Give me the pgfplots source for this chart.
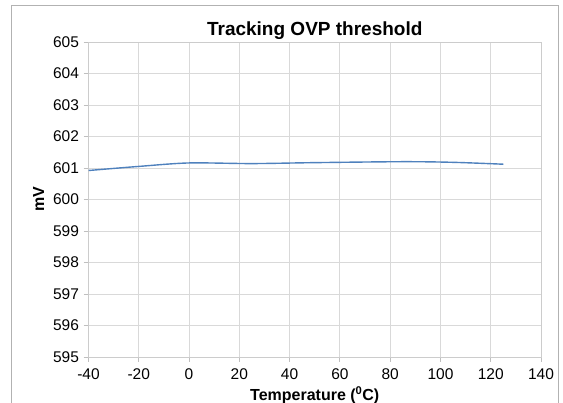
\documentclass[border=0pt]{standalone}
\usepackage{fontspec}
\setmainfont{Liberation Sans}
\usepackage{pgfplots}
\pgfplotsset{compat=1.18}
\begin{document}
\begin{tikzpicture}[x=1pt,y=1pt]
\begin{axis}[
  at={(88.5pt,46pt)}, anchor=south west,
  scale only axis, width=452.5pt, height=315pt,
  xmin=-40, xmax=140, ymin=595, ymax=605,
  xtick={-40,-20,...,140}, ytick={595,596,...,605},
  grid=major, grid style={gray!30, line width=0.8pt},
  axis line style={gray!40, line width=0.8pt},
  tick style={gray!50, line width=0.8pt},
  tick align=outside, major tick length=5pt,
  xtick pos=bottom, ytick pos=left,
  /pgf/number format/assume math mode=true,
  /pgf/number format/1000 sep={},
  ticklabel style={font=\fontsize{15.5}{17}\selectfont, text=black},
  yticklabel style={xshift=-1pt},
  xticklabel style={yshift=-3pt},
  title={\textbf{Tracking OVP threshold}},
  title style={font=\fontsize{19}{22}\selectfont, yshift=-7pt},
  xlabel={\textbf{Temperature (\textsuperscript{0}C)}},
  xlabel style={font=\fontsize{16}{18}\selectfont, yshift=0pt},
  ylabel={\textbf{mV}},
  ylabel style={font=\fontsize{16}{18}\selectfont, yshift=2pt},
]
\addplot[smooth, color={rgb,255:red,79;green,129;blue,189}, line width=1.4pt] coordinates {
(-40,600.92) (-20,601.05) (0,601.16) (25,601.14) (50,601.17) (85,601.20) (105,601.18) (125,601.12)
};
\end{axis}
\draw[gray!60, line width=0.8pt] (11.5pt,-20pt) -- (11.5pt,398pt) -- (558pt,398pt) -- (558pt,-20pt);
\pgfresetboundingbox
\path (0,0) rectangle (563pt,403pt);
\end{tikzpicture}
\end{document}
